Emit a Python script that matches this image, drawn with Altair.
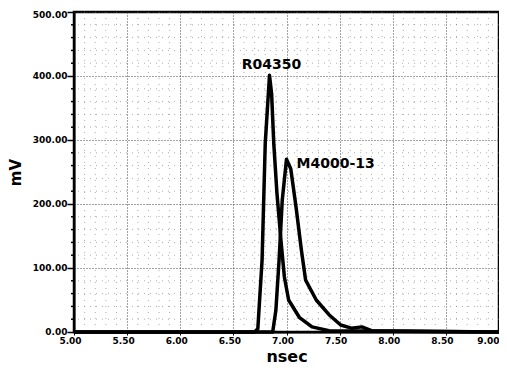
import altair as alt
import pandas as pd

# R04350 trace (nsec, mV)
r_x = [5.00, 6.70, 6.73, 6.77, 6.80, 6.84, 6.86, 6.88, 6.91, 6.95, 6.98, 7.02, 7.12, 7.24, 7.40, 9.00]
r_y = [0, 0, 5, 112, 295, 401, 372, 295, 217, 139, 86, 50, 23, 8, 2, 0]

# M4000-13 trace (nsec, mV)
m_x = [5.00, 6.87, 6.90, 6.93, 6.96, 7.00, 7.04, 7.09, 7.14, 7.18, 7.28, 7.40, 7.51, 7.61, 7.71, 7.80, 9.00]
m_y = [0, 0, 34, 112, 206, 270, 255, 195, 128, 81, 50, 27, 11, 6, 8, 2, 0]

x_major = [5.0, 5.5, 6.0, 6.5, 7.0, 7.5, 8.0, 8.5, 9.0]
x_minor = [5.1, 5.2, 5.3, 5.4, 5.6, 5.7, 5.8, 5.9, 6.1, 6.2, 6.3, 6.4, 6.6, 6.7, 6.8, 6.9,
           7.1, 7.2, 7.3, 7.4, 7.6, 7.7, 7.8, 7.9, 8.1, 8.2, 8.3, 8.4, 8.6, 8.7, 8.8, 8.9]
y_major = [0, 100, 200, 300, 400, 500]
y_minor = [20, 40, 60, 80, 120, 140, 160, 180, 220, 240, 260, 280, 320, 340, 360, 380,
           420, 440, 460, 480]

labels = ["R04350", "M4000-13"]
label_x = [6.84, 7.01]
label_y = [401, 270]

df = pd.concat([
    pd.DataFrame({"x": r_x, "y": r_y, "s": "R04350"}),
    pd.DataFrame({"x": m_x, "y": m_y, "s": "M4000-13"}),
])
lab = pd.DataFrame({"x": label_x, "y": label_y, "t": labels})
xmin_df = pd.DataFrame({"x": x_minor})
ymin_df = pd.DataFrame({"y": y_minor})

FONT = "DejaVu Sans"

xs = alt.Scale(domain=[5, 9], nice=False, zero=False)
ys = alt.Scale(domain=[0, 500], nice=False)

x_axis = alt.Axis(
    values=x_major, title="nsec", format=".2f",
    labelFont=FONT, labelFontWeight="bold", labelFontSize=9, labelColor="black",
    tickSize=3, tickColor="black", labelPadding=1,
    labelAlign={"condition": {"test": "datum.value >= 8.99", "value": "right"}, "value": "center"},
    labelOffset={"condition": {"test": "datum.value >= 8.99", "value": 0}, "value": -4},
    domainColor="black", domainWidth=2,
    grid=True, gridColor="#333333", gridDash=[1, 2], gridOpacity=0.9,
    titleFont=FONT, titleFontWeight="bold", titleFontSize=16, titleColor="black", titlePadding=3,
    labelOverlap=False, labelFlush=False,
)
y_axis = alt.Axis(
    values=y_major, title="mV", format=".2f",
    labelFont=FONT, labelFontWeight="bold", labelFontSize=9, labelColor="black",
    tickSize=7, tickColor="black", tickWidth=1.5, labelPadding=0,
    labelOffset={"condition": {"test": "datum.value >= 500", "value": 2}, "value": -1},
    domainColor="black", domainWidth=2,
    grid=True, gridColor="#333333", gridDash=[1, 2], gridOpacity=0.9,
    titleFont=FONT, titleFontWeight="bold", titleFontSize=15, titleColor="black", titlePadding=9,
    labelOverlap=False, labelFlush=False,
)

vgrid = alt.Chart(xmin_df).mark_rule(color="#777777", strokeDash=[1, 5], strokeWidth=1, opacity=0.6).encode(
    x=alt.X("x:Q", scale=xs, axis=x_axis)
)
hgrid = alt.Chart(ymin_df).mark_rule(color="#777777", strokeDash=[1, 5], strokeWidth=1, opacity=0.6).encode(
    y=alt.Y("y:Q", scale=ys, axis=y_axis)
)
yticks = alt.Chart(ymin_df).mark_rule(color="black", strokeWidth=1.5).encode(
    y=alt.Y("y:Q", scale=ys), x=alt.value(-3), x2=alt.value(0)
)

lines = alt.Chart(df).mark_line(color="black", strokeWidth=3.5, strokeJoin="round").encode(
    x=alt.X("x:Q", scale=xs, axis=x_axis),
    y=alt.Y("y:Q", scale=ys, axis=y_axis),
    detail="s:N",
)

r_lab = alt.Chart(lab.iloc[[0]]).mark_text(
    font=FONT, fontWeight="bold", fontSize=14, color="black", baseline="middle", dy=-10, dx=2
).encode(x=alt.X("x:Q", scale=xs), y=alt.Y("y:Q", scale=ys), text="t:N")

m_lab = alt.Chart(lab.iloc[[1]]).mark_text(
    font=FONT, fontWeight="bold", fontSize=14, color="black", align="left", baseline="middle", dx=9, dy=5
).encode(x=alt.X("x:Q", scale=xs), y=alt.Y("y:Q", scale=ys), text="t:N")

chart = alt.layer(vgrid, hgrid, yticks, lines, r_lab, m_lab).properties(
    width=425, height=320,
    autosize=alt.AutoSizeParams(type="none"),
    padding={"left": 66, "top": 4, "right": 0, "bottom": 32},
    background="white",
).configure_view(stroke="black", strokeWidth=2.5)

chart.save("out.html", embed_options={"renderer": "svg", "actions": False})
